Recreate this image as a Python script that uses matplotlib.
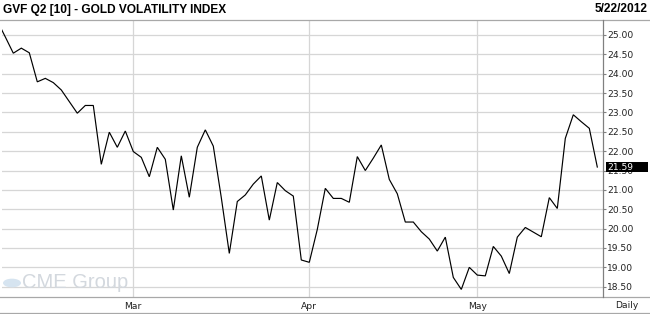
import numpy as np
import pandas as pd
import matplotlib
matplotlib.use("Agg")
import matplotlib.pyplot as plt
from matplotlib.lines import Line2D
from matplotlib.patches import Rectangle, Circle

# daily settle of the gold volatility future, Feb 7 - May 22 2012
dates = pd.bdate_range("2012-02-07", "2012-05-22")
vol = [25.36, 24.95, 24.53, 24.66, 24.54, 23.79, 23.88, 23.77, 23.58, 23.28,
       22.98, 23.18, 23.18, 21.66, 22.49, 22.10, 22.52, 21.99, 21.84, 21.34,
       22.10, 21.79, 20.48, 21.88, 20.81, 22.10, 22.55, 22.13, 20.80, 19.36,
       20.70, 20.87, 21.15, 21.36, 20.22, 21.19, 20.98, 20.84, 19.19, 19.13,
       19.98, 21.04, 20.78, 20.78, 20.68, 21.86, 21.50, 21.82, 22.16, 21.27,
       20.90, 20.17, 20.17, 19.92, 19.73, 19.42, 19.78, 18.74, 18.43, 19.00,
       18.80, 18.78, 19.54, 19.29, 18.84, 19.78, 20.03, 19.91, 19.79, 20.80,
       20.52, 22.33, 22.94, 22.76, 22.59, 21.59]
yticks = np.arange(18.5, 25.01, 0.5)
title = "GVF Q2 [10] - GOLD VOLATILITY INDEX"
date_label = "5/22/2012"

W, H = 650, 314
fig = plt.figure(figsize=(W / 100, H / 100), dpi=100)
fig.patch.set_facecolor("white")

# axes placed in pixel terms
left, right, top, bottom = 1.5, 603.3, 20, 296.7
ax = fig.add_axes([left / W, (H - bottom) / H, (right - left) / W, (bottom - top) / H])
ax.set_facecolor("white")

x = np.arange(len(vol))
ax.plot(x, vol, color="black", lw=0.85, solid_joinstyle="miter")
ax.set_xlim(0.525, 75.75)
ax.set_ylim(18.242, 25.387)

for s in ax.spines.values():
    s.set_visible(False)

ax.yaxis.tick_right()
ax.set_yticks(yticks)
ax.set_yticklabels([f"{v:.2f}" for v in yticks])
ax.tick_params(axis="y", length=2.2, width=0.8, color="#808080", pad=0.6,
               labelsize=6.6, labelcolor="#202020")
ax.grid(axis="y", color="#d6d6d6", lw=0.9)

# month gridlines at first trading day of each month
month_start = [i for i in range(1, len(dates)) if dates[i].month != dates[i - 1].month]
ax.set_xticks(month_start)
ax.set_xticklabels([dates[i].strftime("%b") for i in month_start])
ax.tick_params(axis="x", length=0, pad=4, labelsize=6.6, labelcolor="#202020")
ax.grid(axis="x", color="#d6d6d6", lw=0.9)

# last value tag
last = vol[-1]
ax.add_patch(Rectangle((1.004, last - 0.128), 0.071, 0.256, transform=ax.get_yaxis_transform(),
                       facecolor="black", edgecolor="none", clip_on=False, zorder=5))
ax.text(1.0065, last, f"{last:.2f}", transform=ax.get_yaxis_transform(), ha="left",
        va="center", color="white", fontsize=6.6, zorder=6)

# frame lines
def hline(y, c="#a8a8a8"):
    fig.add_artist(Line2D([0, 1], [(H - y) / H] * 2, color=c, lw=0.9))

hline(19.5)
hline(297)
hline(313.3)
fig.add_artist(Line2D([right / W] * 2, [(H - 297) / H, (H - 19.5) / H], color="#808080", lw=0.9))

# header
fig.text(3 / W, (H - 9.5) / H, title, ha="left", va="center", fontsize=8.6, fontweight="bold",
         family="Liberation Sans")
fig.text(648 / W, (H - 9.5) / H, date_label, ha="right", va="center", fontsize=8.6,
         fontweight="bold", family="Liberation Sans")
fig.text(627 / W, (H - 305.5) / H, "Daily", ha="center", va="center", fontsize=6.6, color="#202020")

# faded watermark
fig.add_artist(Circle((12 / W, (H - 283) / H), 9 / W, transform=fig.transFigure,
                      facecolor="#d6e4f0", edgecolor="none"))
fig.text(22 / W, (H - 283) / H, "CME Group", ha="left", va="center", fontsize=14.5,
         color="#d3d8de", family="Liberation Sans")

fig.savefig("out.png", dpi=100)
